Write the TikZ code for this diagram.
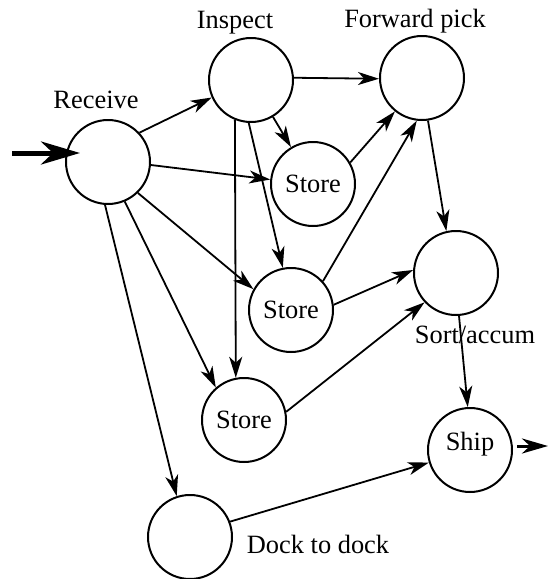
\documentclass[tikz,border=0pt]{standalone}
\usepackage{fontspec}
\setmainfont{Liberation Serif}
\usetikzlibrary{arrows.meta}

\begin{document}
\begin{tikzpicture}[
    x=0.5pt, y=-0.5pt,
    font=\fontsize{13.2}{15}\selectfont,
    circ/.style={circle, draw, line width=1pt, minimum size=42pt, inner sep=0pt},
    lbl/.style={anchor=base, inner sep=0pt},
    arrow/.style={-{Stealth[length=10.5pt, width=6.5pt, inset=3pt]}, line width=0.9pt},
    inarrow/.style={-{Stealth[length=19.5pt, width=11.5pt, inset=6pt]}, line width=2.5pt},
    outarrow/.style={-{Stealth[length=13pt, width=7.5pt, inset=4pt]}, line width=1.5pt}
]
    \useasboundingbox (0,0) rectangle (548,579);

    \node[circ] (rec) at (108,162) {};
    \node[circ] (insp) at (251,80) {};
    \node[circ] (fwd) at (422,78) {};
    \node[circ] (st1) at (313,184) {Store};
    \node[circ] (st2) at (291,310) {Store};
    \node[circ] (st3) at (244,420) {Store};
    \node[circ] (sort) at (456,273) {};
    \node[circ, text height=9pt, text depth=9pt] (ship) at (470,450) {Ship};
    \node[circ] (dock) at (190,537) {};

    \node[lbl] (lrec) at (96,108) {Receive};
    \node[lbl] (linsp) at (235,28) {Inspect};
    \node[lbl] (lfwd) at (415,27) {Forward pick};
    \node[lbl] (lsort) at (475,343) {Sort/accum};
    \node[lbl] (ldock) at (318,553) {Dock to dock};

    \coordinate (in) at (12,153);
    \coordinate (out) at (548,446);

    \draw[inarrow] (in) -- ([xshift=7.5pt]rec.west |- in);
    \draw[outarrow] ([xshift=2pt]ship.east |- out) -- (out);

    \draw[arrow] (rec.43) -- (insp.204);
    \draw[arrow] (rec.-4) -- (st1.174);
    \draw[arrow] (rec.-46) -- (st2.151);
    \draw[arrow] (rec.-67) -- (st3.131);
    \draw[arrow] (rec.266) -- (dock.108);
    \draw[arrow] (insp.3) -- (fwd.181);
    \draw[arrow] (insp) -- (st1);
    \draw[arrow] (insp.267) -- (st2.101);
    \draw[arrow] (insp.248) -- (st3.101);
    \draw[arrow] (st1.30) -- (fwd.231);
    \draw[arrow] (st2.42) -- (fwd.263);
    \draw[arrow] (fwd.-82) -- (sort.103);
    \draw[arrow] (st2.7) -- (sort.176);
    \draw[arrow] (st3.11) -- (sort.223);
    \draw[arrow] (sort.-86) -- (ship.93);
    \draw[arrow] (dock.21) -- (ship.197);
\end{tikzpicture}
\end{document}
